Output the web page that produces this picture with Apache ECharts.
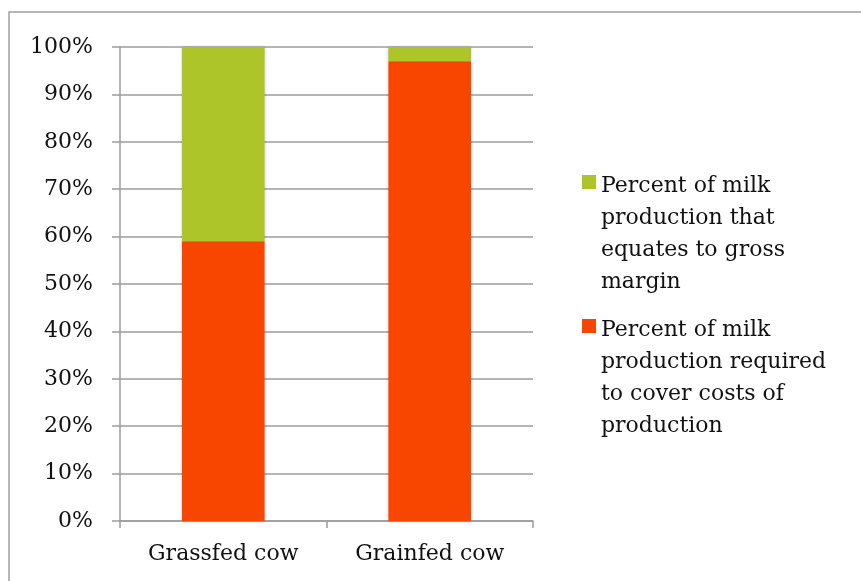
<!DOCTYPE html>
<html>
<head>
<meta charset="utf-8">
<script src="https://cdn.jsdelivr.net/npm/echarts@6/dist/echarts.min.js"></script>
<style>
  html, body { margin: 0; padding: 0; background: #fff; }
  #chart { width: 861px; height: 581px; }
</style>
</head>
<body>
<div id="chart"></div>
<script>
// data
const categories = ['Grassfed cow', 'Grainfed cow'];
const costShare = [59, 97];     // orange, bottom
const marginShare = [41, 3];    // green, top
const costName = 'Percent of milk\nproduction required\nto cover costs of\nproduction';
const marginName = 'Percent of milk\nproduction that\nequates to gross\nmargin';

const font = 'DejaVu Serif';
const gridColor = '#9c9c9c';
const green = '#aec52a';
const orange = '#f84600';

// tall legend icon: square near top, so it sits beside the first text line
const legendIcon = 'path://M0,0 M0,128 M0,5h14v14h-14z';

var chart = echarts.init(document.getElementById('chart'));
chart.setOption({
  animation: false,
  graphic: [{
    type: 'rect',
    shape: { x: 9, y: 12, width: 1000, height: 1000 },
    style: { fill: 'none', stroke: '#a0a0a0', lineWidth: 1.5 },
    silent: true
  }],
  grid: { left: 120, right: 328, top: 47, bottom: 60 },
  legend: {
    orient: 'vertical',
    left: 577,
    top: 165,
    itemWidth: 14,
    itemHeight: 128,
    itemGap: 16,
    icon: legendIcon,
    data: [marginName, costName],
    textStyle: { fontFamily: font, fontSize: 22, lineHeight: 32, color: '#111' }
  },
  xAxis: {
    type: 'category',
    data: categories,
    axisLine: { lineStyle: { color: gridColor, width: 1.5 } },
    axisTick: { show: true, length: 7, lineStyle: { color: gridColor, width: 1.5 } },
    axisLabel: { fontFamily: font, fontSize: 22, color: '#111', margin: 22 }
  },
  yAxis: {
    type: 'value',
    min: 0,
    max: 100,
    interval: 10,
    axisLine: { show: true, lineStyle: { color: gridColor, width: 1.5 } },
    axisTick: { show: true, length: 8, lineStyle: { color: gridColor, width: 1.5 } },
    axisLabel: { formatter: '{value}%', fontFamily: font, fontSize: 22, color: '#111', margin: 27 },
    splitLine: { lineStyle: { color: gridColor, width: 1.5 } }
  },
  series: [
    {
      name: costName,
      type: 'bar',
      stack: 'milk',
      barWidth: '40%',
      data: costShare,
      itemStyle: { color: orange, shadowBlur: 3, shadowColor: 'rgba(0,0,0,0.3)' }
    },
    {
      name: marginName,
      type: 'bar',
      stack: 'milk',
      barWidth: '40%',
      data: marginShare,
      itemStyle: { color: green, shadowBlur: 3, shadowColor: 'rgba(0,0,0,0.3)' }
    }
  ]
});
</script>
</body>
</html>
